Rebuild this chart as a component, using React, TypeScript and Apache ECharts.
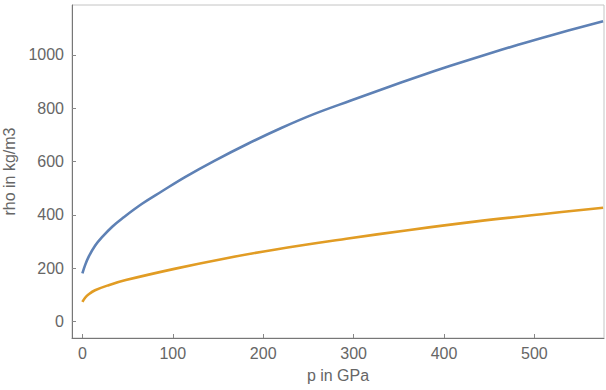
import React, { useEffect, useRef } from "react";
import * as echarts from "echarts";

const xTicks = [0, 100, 200, 300, 400, 500];
const yTicks = [0, 200, 400, 600, 800, 1000];

const blueP = [0, 3, 7, 14, 22, 33, 44, 66, 88, 114, 146, 183, 220, 256, 297, 334, 371, 408, 445, 482, 519, 576];
const blueRho = [181, 212, 244, 285, 318, 356, 387, 442, 489, 543, 603, 667, 726, 778, 829, 874, 918, 960, 1000, 1038, 1074, 1126];

const orangeP = [0, 3, 7, 14, 29, 48, 103, 158, 214, 292, 360, 434, 508, 576];
const orangeRho = [74, 90, 103, 118, 137, 156, 199, 237, 271, 311, 343, 375, 403, 427];

const xName = "p in GPa";
const yName = "rho in kg/m3";

export default function App() {
  const ref = useRef<HTMLDivElement>(null);
  useEffect(() => {
    if (!ref.current) return;
    const chart = echarts.init(ref.current, null, { renderer: "svg" });
    const font = "Liberation Sans, Arial, sans-serif";
    const labelColor = "#666";
    chart.setOption({
      animation: false,
      textStyle: { fontFamily: font },
      grid: {
        left: 72,
        right: 2,
        top: 5,
        bottom: 52,
        show: true,
        borderColor: "#c4c4c4",
        borderWidth: 1,
        containLabel: false,
        outerBoundsMode: "none",
      },
      xAxis: {
        type: "value",
        min: -11.5,
        max: 577,
        name: xName,
        nameLocation: "middle",
        nameGap: 29,
        nameTextStyle: { color: labelColor, fontSize: 16, fontFamily: font },
        axisLine: { show: true, onZero: false, lineStyle: { color: "#777", width: 1 } },
        axisTick: { show: true, inside: true, length: 4, customValues: xTicks, lineStyle: { color: "#888" } },
        axisLabel: { customValues: xTicks, color: labelColor, fontSize: 16, margin: 7, fontFamily: font, formatter: (v: number) => String(v) },
        splitLine: { show: false },
      },
      yAxis: {
        type: "value",
        min: -61,
        max: 1187,
        name: yName,
        nameLocation: "middle",
        nameGap: 48,
        nameTextStyle: { color: labelColor, fontSize: 16, fontFamily: font },
        axisLine: { show: true, onZero: false, lineStyle: { color: "#777", width: 1 } },
        axisTick: { show: true, inside: true, length: 4, customValues: yTicks, lineStyle: { color: "#888" } },
        axisLabel: { customValues: yTicks, color: labelColor, fontSize: 16, margin: 8, fontFamily: font, formatter: (v: number) => String(v) },
        splitLine: { show: false },
      },
      series: [
        {
          type: "line",
          data: blueP.map((p, i) => [p, blueRho[i]]),
          smooth: 0.4,
          showSymbol: false,
          lineStyle: { color: "#5E81B5", width: 2.6 },
          itemStyle: { color: "#5E81B5" },
        },
        {
          type: "line",
          data: orangeP.map((p, i) => [p, orangeRho[i]]),
          smooth: 0.4,
          showSymbol: false,
          lineStyle: { color: "#E19C24", width: 2.6 },
          itemStyle: { color: "#E19C24" },
        },
      ],
    });
    return () => chart.dispose();
  }, []);
  return (
    <div
      ref={ref}
      style={{ position: "fixed", left: 0, top: 0, width: 606, height: 390, background: "#fff" }}
    />
  );
}
